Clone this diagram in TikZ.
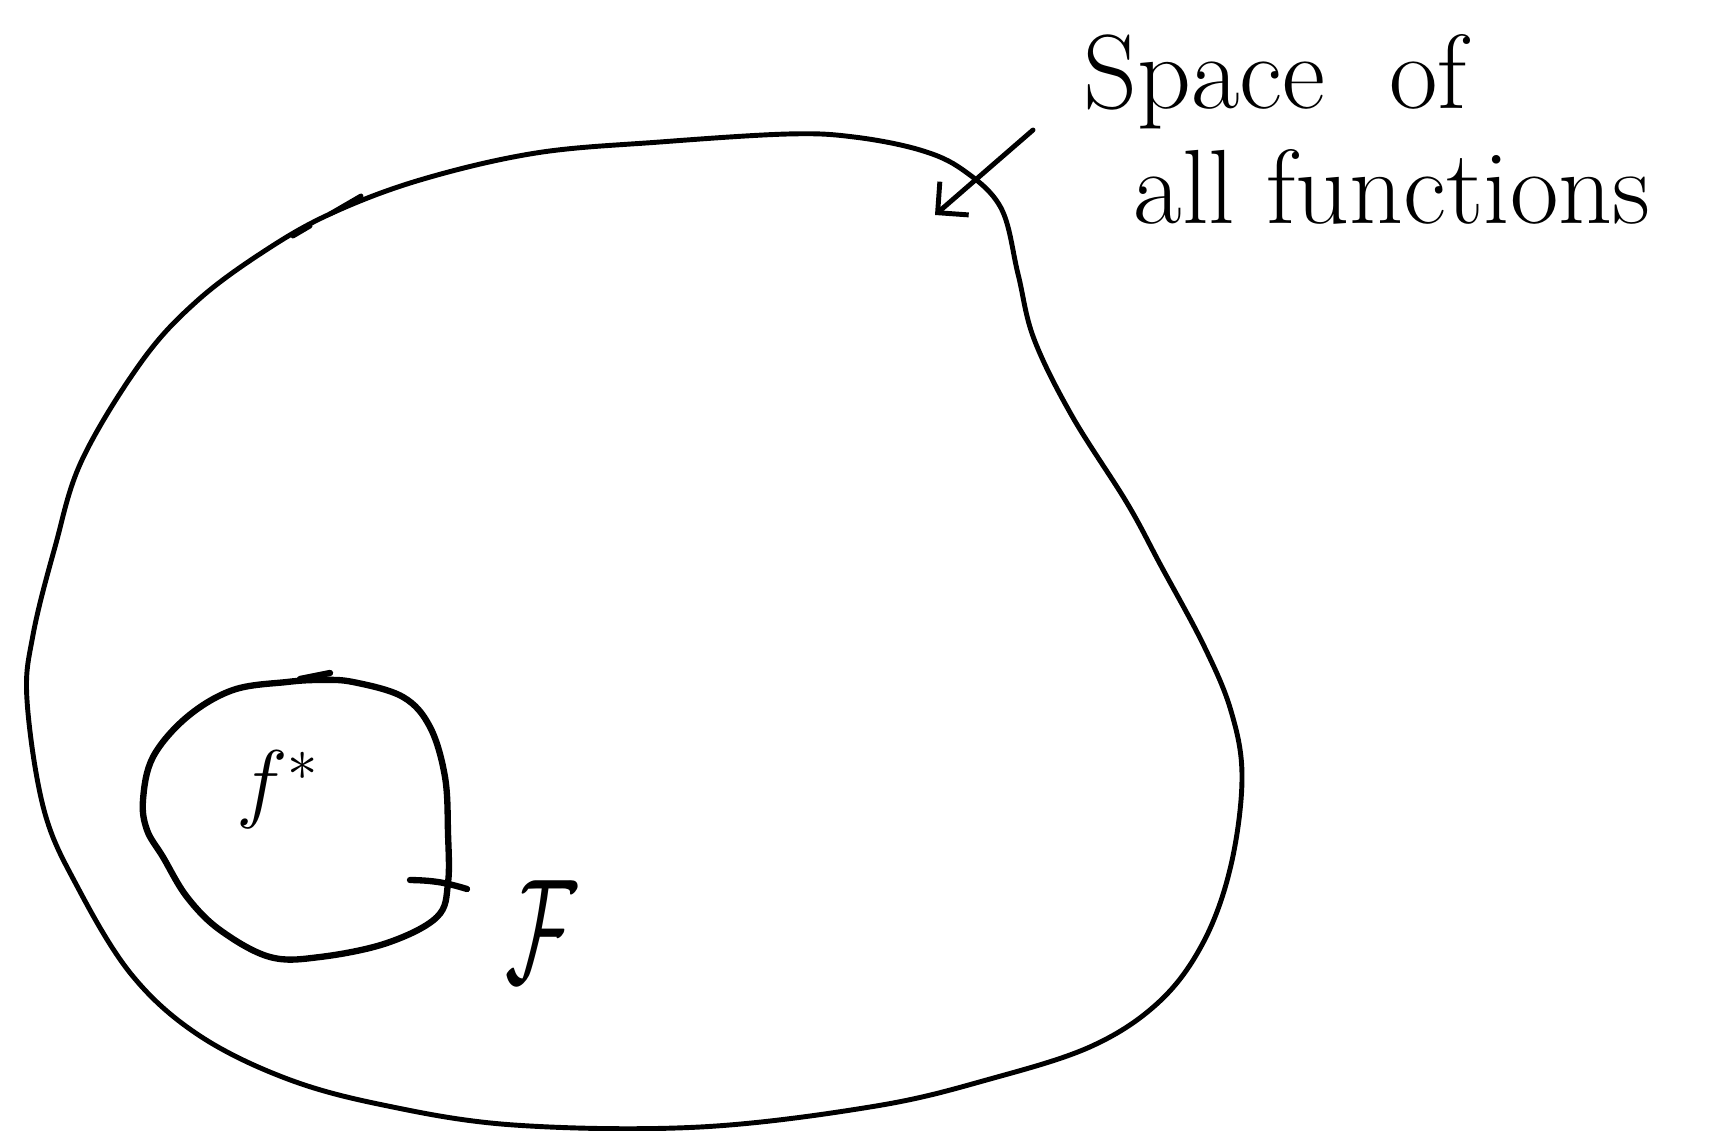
\documentclass[tikz,border=0pt]{standalone}
\usetikzlibrary{arrows.meta}
\begin{document}
\begin{tikzpicture}[x=0.01cm,y=-0.01cm,
  pen/.style={line width=1.4pt,line cap=round,line join=round},
  penb/.style={line width=1.8pt,line cap=round,line join=round},
  lbl/.style={inner sep=0pt,anchor=base west,font=\fontsize{30}{32}\selectfont}]
\useasboundingbox (0,0) rectangle (1716,1131);
% outer region
\draw[pen] plot[smooth cycle,tension=0.6] coordinates {
(330,214) (420,180) (536,153) (660,142) (788,134) (854,137) (920,150) (963,170)
(1001,208) (1018,274) (1034,339) (1072,416) (1127,503) (1160,564) (1204,646)
(1231,711) (1242,777) (1231,865) (1204,941) (1160,1001) (1092,1046) (990,1079)
(876,1106) (700,1127) (514,1125) (383,1105) (285,1078) (197,1034) (131,974)
(77,886) (44,810) (27,700) (33,635) (55,547) (82,460) (142,361) (197,301) (263,252)};
\coordinate (o1) at (330,214);
\coordinate (o2) at (361,196);
\coordinate (o3) at (293,236);
\coordinate (o4) at (310,226);
\draw[pen] (o1) -- (o2);
\draw[pen] (o3) -- (o4);
% inner region F
\draw[penb] plot[smooth cycle,tension=0.6] coordinates {
(287,682) (233,690) (187,717) (153,757) (143,800) (147,830) (163,857) (187,897)
(220,930) (270,957) (320,957) (387,943) (437,917) (448,883) (448,833) (445,777)
(430,727) (403,697) (353,682) (320,680)};
\coordinate (i1) at (300,679);
\coordinate (i2) at (330,673);
\coordinate (t1) at (410,880);
\coordinate (t2) at (467,889);
\draw[penb] (i1) -- (i2);
\draw[penb] (t1) to[bend left=8] (t2);
% labels
\node[lbl] (sp) at (1083,109) {Space\ \ of};
\node[lbl] (af) at (1133,224) {all\ functions};
\node[inner sep=0pt,font=\fontsize{26}{28}\selectfont] (fs) at (278,790) {$f^{*}$};
\node[inner sep=0pt,font=\fontsize{40}{42}\selectfont] (FF) at (541,932) {\scalebox{1}[1.7]{$\mathcal{F}$}};
% arrow
\coordinate (as) at (1033,130);
\coordinate (at) at (935,215);
\draw[pen,-{Straight Barb[length=2.2mm,width=4.4mm]}] (as) -- (at);
\end{tikzpicture}
\end{document}
